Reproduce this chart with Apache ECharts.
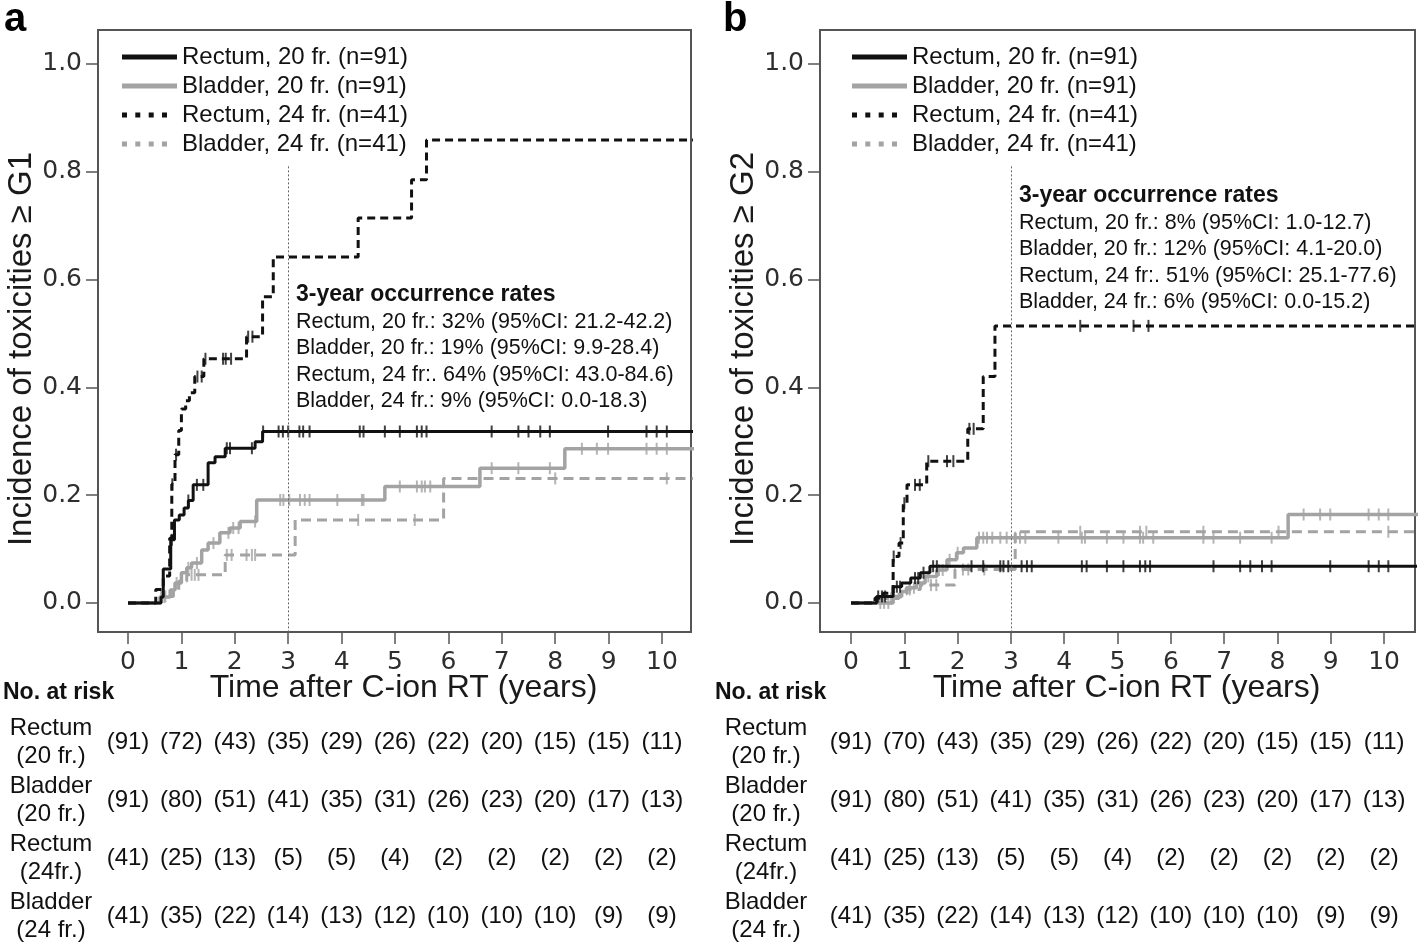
<!DOCTYPE html>
<html><head><meta charset="utf-8">
<script src="https://cdn.jsdelivr.net/npm/echarts@6/dist/echarts.min.js"></script>
<style>html,body{margin:0;padding:0;background:#fff}#c{width:1418px;height:947px}</style>
</head><body><div id="c"></div>
<script>
// ---------- data ----------
const xTicks = [0,1,2,3,4,5,6,7,8,9,10];
const yTicks = [0,0.2,0.4,0.6,0.8,1.0];
const seriesNames = ['Rectum, 20 fr. (n=91)','Bladder, 20 fr. (n=91)','Rectum, 24 fr. (n=41)','Bladder, 24 fr. (n=41)'];
const riskRowLabels = ['Rectum\n(20 fr.)','Bladder\n(20 fr.)','Rectum\n(24fr.)','Bladder\n(24 fr.)'];
const yTitleA = 'Incidence of toxicities \u2265 G1';
const yTitleB = 'Incidence of toxicities \u2265 G2';
const xTitle = 'Time after C-ion RT (years)';
const annTitle = '3-year occurrence rates';
const annLinesA = ['Rectum, 20 fr.: 32% (95%CI: 21.2-42.2)','Bladder, 20 fr.: 19% (95%CI: 9.9-28.4)','Rectum, 24 fr:. 64% (95%CI: 43.0-84.6)','Bladder, 24 fr.: 9% (95%CI: 0.0-18.3)'];
const annLinesB = ['Rectum, 20 fr.: 8% (95%CI: 1.0-12.7)','Bladder, 20 fr.: 12% (95%CI: 4.1-20.0)','Rectum, 24 fr:. 51% (95%CI: 25.1-77.6)','Bladder, 24 fr.: 6% (95%CI: 0.0-15.2)'];

// Panel a (>= G1): step points [time, cumulative incidence], censor times
const aRectum20 = [[0,0],[0.62,0.011],[0.66,0.063],[0.80,0.117],[0.87,0.154],[0.96,0.163],[1.05,0.176],[1.13,0.19],[1.22,0.219],[1.50,0.26],[1.63,0.271],[1.82,0.287],[2.38,0.299],[2.52,0.318]];
const aBladder20 = [[0,0],[0.6,0.011],[0.79,0.024],[0.88,0.037],[1.0,0.056],[1.10,0.065],[1.19,0.074],[1.38,0.098],[1.50,0.111],[1.72,0.13],[1.91,0.139],[2.10,0.151],[2.41,0.191],[4.81,0.216],[6.59,0.25],[8.18,0.286]];
const aRectum24 = [[0,0],[0.52,0.025],[0.66,0.05],[0.78,0.12],[0.82,0.22],[0.88,0.275],[0.95,0.32],[1.0,0.36],[1.08,0.375],[1.15,0.39],[1.25,0.42],[1.42,0.453],[2.22,0.494],[2.52,0.568],[2.72,0.642],[4.31,0.714],[5.31,0.785],[5.59,0.859]];
const aBladder24 = [[0,0],[0.6,0.012],[0.85,0.024],[0.95,0.04],[1.1,0.052],[1.82,0.089],[3.13,0.154],[5.91,0.231]];
const aRectum20Cens = [0.82,1.13,1.29,1.41,1.85,1.91,2.32,2.53,2.82,2.90,3.0,3.21,3.28,3.40,4.34,4.41,4.81,5.09,5.41,5.50,5.59,6.81,7.31,7.50,7.72,7.90,8.99,9.71,9.90,10.09];
const aBladder20Cens = [0.62,0.68,0.91,1.13,1.29,1.60,1.88,1.97,2.07,2.38,2.85,2.91,3.02,3.22,3.31,3.40,3.92,4.38,4.41,5.09,5.41,5.50,5.56,5.66,6.81,7.31,7.90,8.50,8.78,8.99,9.71,9.90,10.09];
const aRectum24Cens = [0.83,0.90,1.30,1.38,1.45,1.78,1.83,1.93,2.25,2.33];
const aBladder24Cens = [0.7,1.19,1.25,1.32,1.85,1.94,2.22,2.32,2.38,4.31,5.37,8.0,10.09];

// Panel b (>= G2)
const bRectum20 = [[0,0],[0.48,0.012],[0.79,0.03],[0.95,0.037],[1.12,0.046],[1.3,0.056],[1.48,0.068]];
const bBladder20 = [[0,0],[0.79,0.012],[0.95,0.021],[1.04,0.028],[1.23,0.037],[1.39,0.049],[1.61,0.061],[1.80,0.08],[1.98,0.093],[2.11,0.102],[2.36,0.121],[8.20,0.164]];
const bRectum24 = [[0,0],[0.45,0.009],[0.6,0.018],[0.79,0.086],[0.9,0.111],[0.98,0.185],[1.05,0.219],[1.42,0.263],[2.19,0.323],[2.48,0.42],[2.70,0.514]];
const bBladder24 = [[0,0],[0.55,0.008],[0.9,0.017],[1.05,0.025],[1.3,0.033],[1.95,0.062],[3.08,0.132]];
const bRectum20Cens = [0.51,0.58,0.64,0.86,0.92,1.20,1.26,1.36,1.54,1.61,2.26,2.48,2.80,2.86,2.95,3.20,3.30,3.39,4.33,4.42,4.80,5.11,5.42,5.52,5.61,6.80,7.30,7.49,7.71,7.89,8.99,9.71,9.90,10.08];
const bBladder20Cens = [0.55,0.62,0.70,1.10,1.18,1.45,1.65,1.72,1.85,2.0,2.40,2.48,2.55,2.65,2.80,2.92,3.08,3.17,3.27,3.89,4.33,4.39,4.80,5.11,5.42,5.48,5.67,6.61,6.80,7.30,7.89,8.49,8.80,8.99,9.71,9.90,10.08];
const bRectum24Cens = [0.80,0.93,1.0,1.2,1.29,1.45,1.80,1.92,2.22,2.30,4.30,5.30,5.58];
const bBladder24Cens = [0.6,0.75,1.1,1.5,1.6,2.1,2.2,2.5,4.30,5.42,5.54,6.61,8.02,10.08];

// Numbers at risk
const aRiskRectum20 = [91,72,43,35,29,26,22,20,15,15,11];
const aRiskBladder20 = [91,80,51,41,35,31,26,23,20,17,13];
const aRiskRectum24 = [41,25,13,5,5,4,2,2,2,2,2];
const aRiskBladder24 = [41,35,22,14,13,12,10,10,10,9,9];
const bRiskRectum20 = [91,70,43,35,29,26,22,20,15,15,11];
const bRiskBladder20 = [91,80,51,41,35,31,26,23,20,17,13];
const bRiskRectum24 = [41,25,13,5,5,4,2,2,2,2,2];
const bRiskBladder24 = [41,35,22,14,13,12,10,10,10,9,9];

// ---------- layout / style ----------
const FONT = "'Liberation Sans', Arial, sans-serif";
const TICKFONT = "'DejaVu Sans', sans-serif";
const YMIN = -0.054, YMAX = 1.063;
const panels = [
  {left:98, width:593, xmin:-0.562, xmax:10.543, yTitle:yTitleA, yGap:44, rowMargin:47,
   curves:[aRectum20,aBladder20,aRectum24,aBladder24], cens:[aRectum20Cens,aBladder20Cens,aRectum24Cens,aBladder24Cens],
   risk:[aRiskRectum20,aRiskBladder20,aRiskRectum24,aRiskBladder24]},
  {left:820, width:595, xmin:-0.582, xmax:10.58, yTitle:yTitleB, yGap:54, rowMargin:54,
   curves:[bRectum20,bBladder20,bRectum24,bBladder24], cens:[bRectum20Cens,bBladder20Cens,bRectum24Cens,bBladder24Cens],
   risk:[bRiskRectum20,bRiskBladder20,bRiskRectum24,bRiskBladder24]}
];
const styles = [
  {color:'#111111', width:3, type:'solid'},
  {color:'#a3a3a3', width:3.5, type:'solid'},
  {color:'#111111', width:3, type:[8,5]},
  {color:'#a3a3a3', width:3, type:[10,6]}
];
const drawOrder = [1,3,0,2];

function stepValue(steps, t){ let v = steps[0][1]; for (const p of steps){ if (p[0] <= t) v = p[1]; } return v; }

const grids = [], xAxes = [], yAxes = [], series = [];
panels.forEach((p) => {
  const k = grids.length;
  grids.push({left:p.left, width:p.width, top:30, height:602, show:true, borderColor:'#555', borderWidth:2, backgroundColor:'transparent'});
  xAxes.push({type:'value', gridIndex:k, min:p.xmin, max:p.xmax,
    name:xTitle, nameLocation:'middle', nameGap:40, nameMoveOverlap:false,
    nameTextStyle:{fontSize:32, fontFamily:FONT, color:'#1a1a1a', padding:[0,0,0,18]},
    axisLine:{show:false, onZero:false}, splitLine:{show:false},
    axisTick:{show:true, customValues:xTicks, length:12, inside:false, lineStyle:{color:'#555', width:1.5}},
    axisLabel:{customValues:xTicks, margin:18, fontSize:25, fontFamily:TICKFONT, color:'#2e2e2e'}});
  yAxes.push({type:'value', gridIndex:k, min:YMIN, max:YMAX,
    name:p.yTitle, nameLocation:'middle', nameGap:p.yGap,
    nameTextStyle:{fontSize:33, fontFamily:FONT, color:'#1a1a1a', padding:[0,36,0,0]},
    axisLine:{show:false, onZero:false}, splitLine:{show:false},
    axisTick:{show:true, customValues:yTicks, length:12, inside:false, lineStyle:{color:'#555', width:1.5}},
    axisLabel:{customValues:yTicks, margin:16, fontSize:25, fontFamily:TICKFONT, color:'#2e2e2e', formatter:v=>v.toFixed(1)}});
  drawOrder.forEach(i => {
    const st = styles[i];
    const data = p.curves[i].slice();
    data.push([p.xmax + 0.2, data[data.length-1][1]]);
    const zz = 2 + (st.color === '#111111' ? 1 : 0);
    const s = {type:'line', name:seriesNames[i], xAxisIndex:k, yAxisIndex:k, step:'end', symbol:'none',
      data:data, color:st.color, lineStyle:{color:st.color, width:st.width, type:st.type}, z:zz, silent:true, animation:false};
    if (i === 0) {
      s.markLine = {silent:true, symbol:'none', label:{show:false},
        lineStyle:{color:'#666', width:1, type:[2,2]},
        data:[[{coord:[3, 0.81]},{coord:[3, YMIN]}]]};
    }
    series.push(s);
    series.push({type:'scatter', name:seriesNames[i], xAxisIndex:k, yAxisIndex:k, symbol:'rect', symbolSize:[2,12],
      data:p.cens[i].map(t => [t, stepValue(p.curves[i], t)]), itemStyle:{color:st.color}, z:zz, silent:true, animation:false});
  });
  // risk table grid
  const g = grids.length;
  grids.push({left:p.left, width:p.width, top:713, height:232, show:false});
  xAxes.push({type:'value', gridIndex:g, min:p.xmin, max:p.xmax, show:false});
  yAxes.push({type:'category', gridIndex:g, data:riskRowLabels, inverse:true,
    axisLine:{show:false}, axisTick:{show:false}, splitLine:{show:false},
    axisLabel:{align:'center', margin:p.rowMargin, fontSize:24, lineHeight:28, fontFamily:FONT, color:'#111'}});
  const riskData = [];
  p.risk.forEach((row, r) => row.forEach((v, j) => riskData.push([xTicks[j], r, v])));
  series.push({type:'scatter', xAxisIndex:g, yAxisIndex:g, symbolSize:0, data:riskData, silent:true, animation:false,
    itemStyle:{color:'#000', opacity:1},
    label:{show:true, position:'inside', formatter:q => '(' + q.value[2] + ')', fontSize:24, fontFamily:FONT, color:'#111'}});
});

const solidIcon = 'path://M0,0h55v4h-55z';
const dotIcon = 'path://M0,0h5v5h-5zM13.3,0h5v5h-5zM26.7,0h5v5h-5zM40,0h5v5h-5zM54.9,0h0.1v0.1h-0.1z';
function legendData(){
  return seriesNames.map((n, i) => ({name:n, icon: i < 2 ? solidIcon : dotIcon, itemStyle:{color: styles[i].color}}));
}
const legendCommon = {orient:'vertical', top:40, itemWidth:55, itemHeight:5, itemGap:5, symbolKeepAspect:false,
  selectedMode:false, textStyle:{fontSize:24, fontFamily:FONT, color:'#111'}};

function annGraphics(x, y0, lines){
  const out = [{type:'text', x:x, y:y0, style:{text:annTitle, fontSize:23, fontWeight:'bold', fontFamily:FONT, fill:'#111', verticalAlign:'middle'}}];
  lines.forEach((l, i) => out.push({type:'text', x:x, y:y0 + 27 + i*26.4, style:{text:l, fontSize:21.5, fontFamily:FONT, fill:'#111', verticalAlign:'middle'}}));
  return out;
}

const option = {
  backgroundColor:'#fff',
  animation:false,
  grid:grids, xAxis:xAxes, yAxis:yAxes, series:series,
  legend:[Object.assign({left:117, data:legendData()}, legendCommon), Object.assign({left:847, data:legendData()}, legendCommon)],
  graphic:[
    {type:'text', x:4, y:20, style:{text:'a', fontSize:40, fontWeight:'bold', fontFamily:FONT, fill:'#000', verticalAlign:'middle'}},
    {type:'text', x:723, y:20, style:{text:'b', fontSize:40, fontWeight:'bold', fontFamily:FONT, fill:'#000', verticalAlign:'middle'}},
    {type:'text', x:3, y:693, style:{text:'No. at risk', fontSize:23, fontWeight:'bold', fontFamily:FONT, fill:'#111', verticalAlign:'middle'}},
    {type:'text', x:715, y:693, style:{text:'No. at risk', fontSize:23, fontWeight:'bold', fontFamily:FONT, fill:'#111', verticalAlign:'middle'}}
  ].concat(annGraphics(296, 295, annLinesA)).concat(annGraphics(1019, 196, annLinesB))
};
const chart = echarts.init(document.getElementById('c'), null, {renderer:'canvas'});
chart.setOption(option);
</script>
</body></html>
